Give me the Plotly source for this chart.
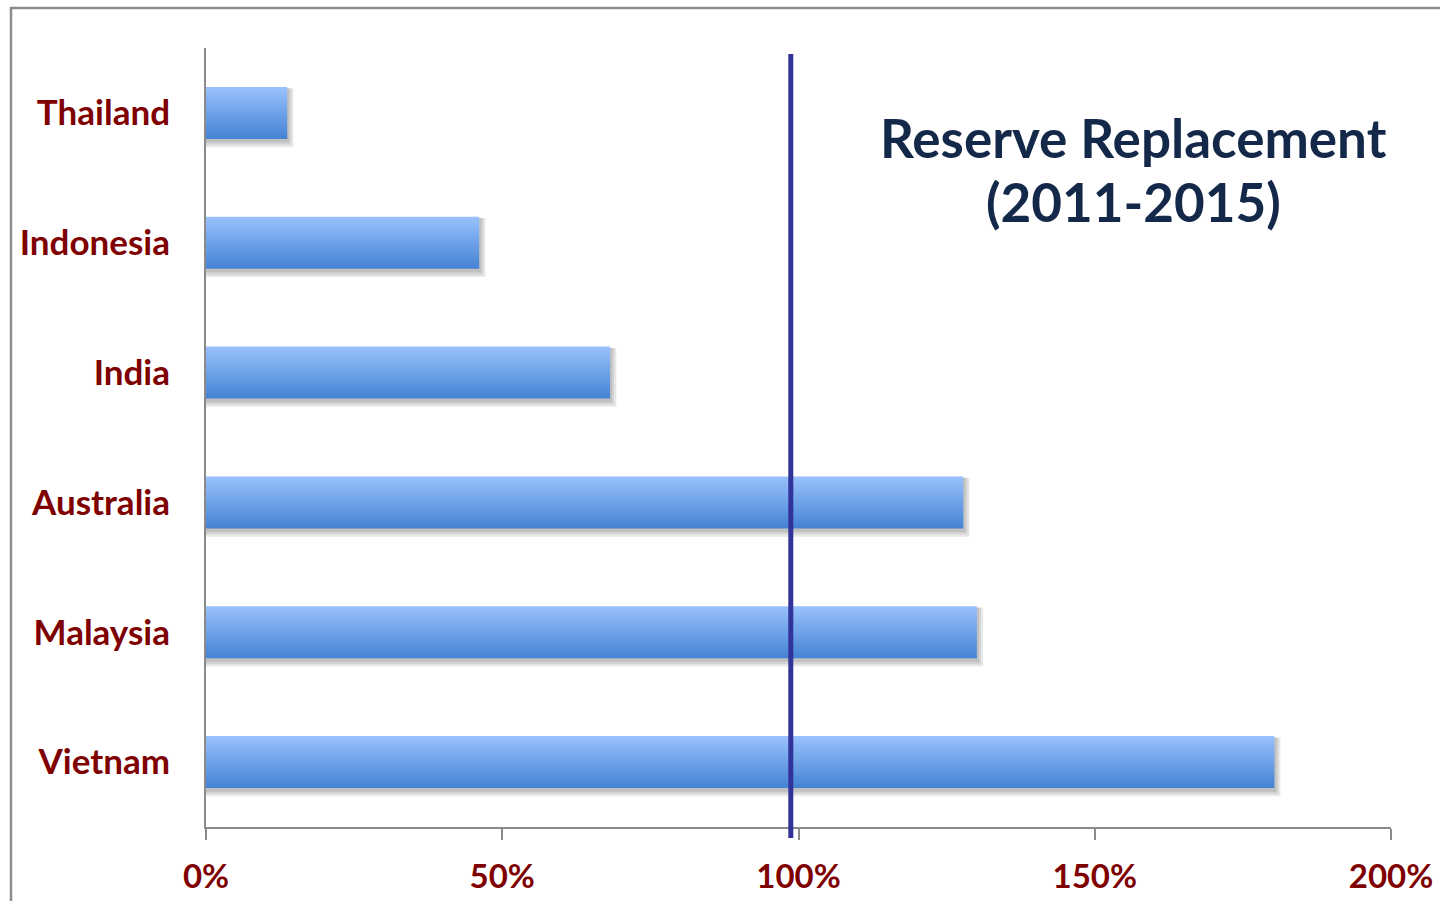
import plotly.graph_objects as go

countries = ["Thailand", "Indonesia", "India", "Australia", "Malaysia", "Vietnam"]
replacement_pct = [13.7, 46.1, 68.2, 127.8, 130.1, 180.3]
reference_line_pct = 98.7
x_tick_vals = [0, 50, 100, 150, 200]
x_tick_text = ["0%", "50%", "100%", "150%", "200%"]
title_lines = ["Reserve Replacement", "(2011-2015)"]

W, H = 1440, 901
L, R, T, B = 206, 49, 48, 74
pw, ph = W - L - R, H - T - B

fig = go.Figure()

bar_w = 0.4
# soft drop shadow
for k in range(1, 4):
    fig.add_trace(go.Bar(
        y=countries, x=[v + 0.35 * k for v in replacement_pct], orientation="h",
        width=bar_w + 0.018 * k, offset=-bar_w / 2 + 0.01,
        marker=dict(color="rgba(0,0,0,0.09)", line=dict(width=0)),
        hoverinfo="skip", showlegend=False))

# gradient bars built from thin strips
N = 26
top = (152, 192, 252)
bot = (70, 132, 212)
for i in range(N):
    t = i / (N - 1)
    c = tuple(round(top[j] + (bot[j] - top[j]) * t) for j in range(3))
    fig.add_trace(go.Bar(
        y=countries, x=replacement_pct, orientation="h",
        width=bar_w / N + (0.006 if i < N - 1 else 0), offset=-bar_w / 2 + i * bar_w / N,
        marker=dict(color="rgb(%d,%d,%d)" % c, line=dict(width=0)),
        hoverinfo="x+y" if i == 0 else "skip", showlegend=False))

# frame
fig.add_shape(type="rect", xref="paper", yref="paper",
              x0=(11 - L) / pw, x1=1.3, y0=-0.3, y1=(H - B - 8) / ph,
              line=dict(color="#8c8c8c", width=2.5), layer="below")

# 100% reference line
fig.add_shape(type="line", xref="x", yref="paper",
              x0=reference_line_pct, x1=reference_line_pct,
              y0=(H - B - 838) / ph, y1=(H - B - 54) / ph,
              line=dict(color="#32339a", width=5))

title_font = dict(family="Lato", size=53, color="#14284a")
for line, yc in zip(title_lines, [138, 201]):
    fig.add_annotation(xref="paper", yref="paper", x=(1133 - L) / pw, y=(H - B - yc) / ph,
                       text="<b>%s</b>" % line, showarrow=False,
                       xanchor="center", yanchor="middle", align="center",
                       font=title_font)

ylabel_font = dict(family="Lato", size=35, color="#7f0000")
xlabel_font = dict(family="Lato", size=33, color="#7f0000")

fig.update_layout(
    width=W, height=H, margin=dict(l=L, r=R, t=T, b=B, autoexpand=False),
    paper_bgcolor="white", plot_bgcolor="white",
    barmode="overlay", bargap=0.6,
    font=dict(family="Lato"),
    xaxis=dict(range=[0, 200], tickvals=x_tick_vals, ticktext=["<b>%s</b>" % s for s in x_tick_text],
               showgrid=False, zeroline=False, showline=True, linecolor="#8a8a8a", linewidth=2,
               ticks="outside", ticklen=11, tickwidth=2, tickcolor="#8a8a8a",
               tickfont=xlabel_font, ticklabelstandoff=8),
    yaxis=dict(categoryorder="array", categoryarray=countries, autorange="reversed",
               tickvals=countries, ticktext=["<b>%s</b>" % c for c in countries],
               showgrid=False, zeroline=False, showline=True, linecolor="#8a8a8a", linewidth=2,
               ticks="", tickfont=ylabel_font, ticklabelstandoff=27),
)

fig.write_html("out.html", config={"displayModeBar": False},
               post_script="document.body.style.margin='0';document.body.style.overflow='hidden';")
